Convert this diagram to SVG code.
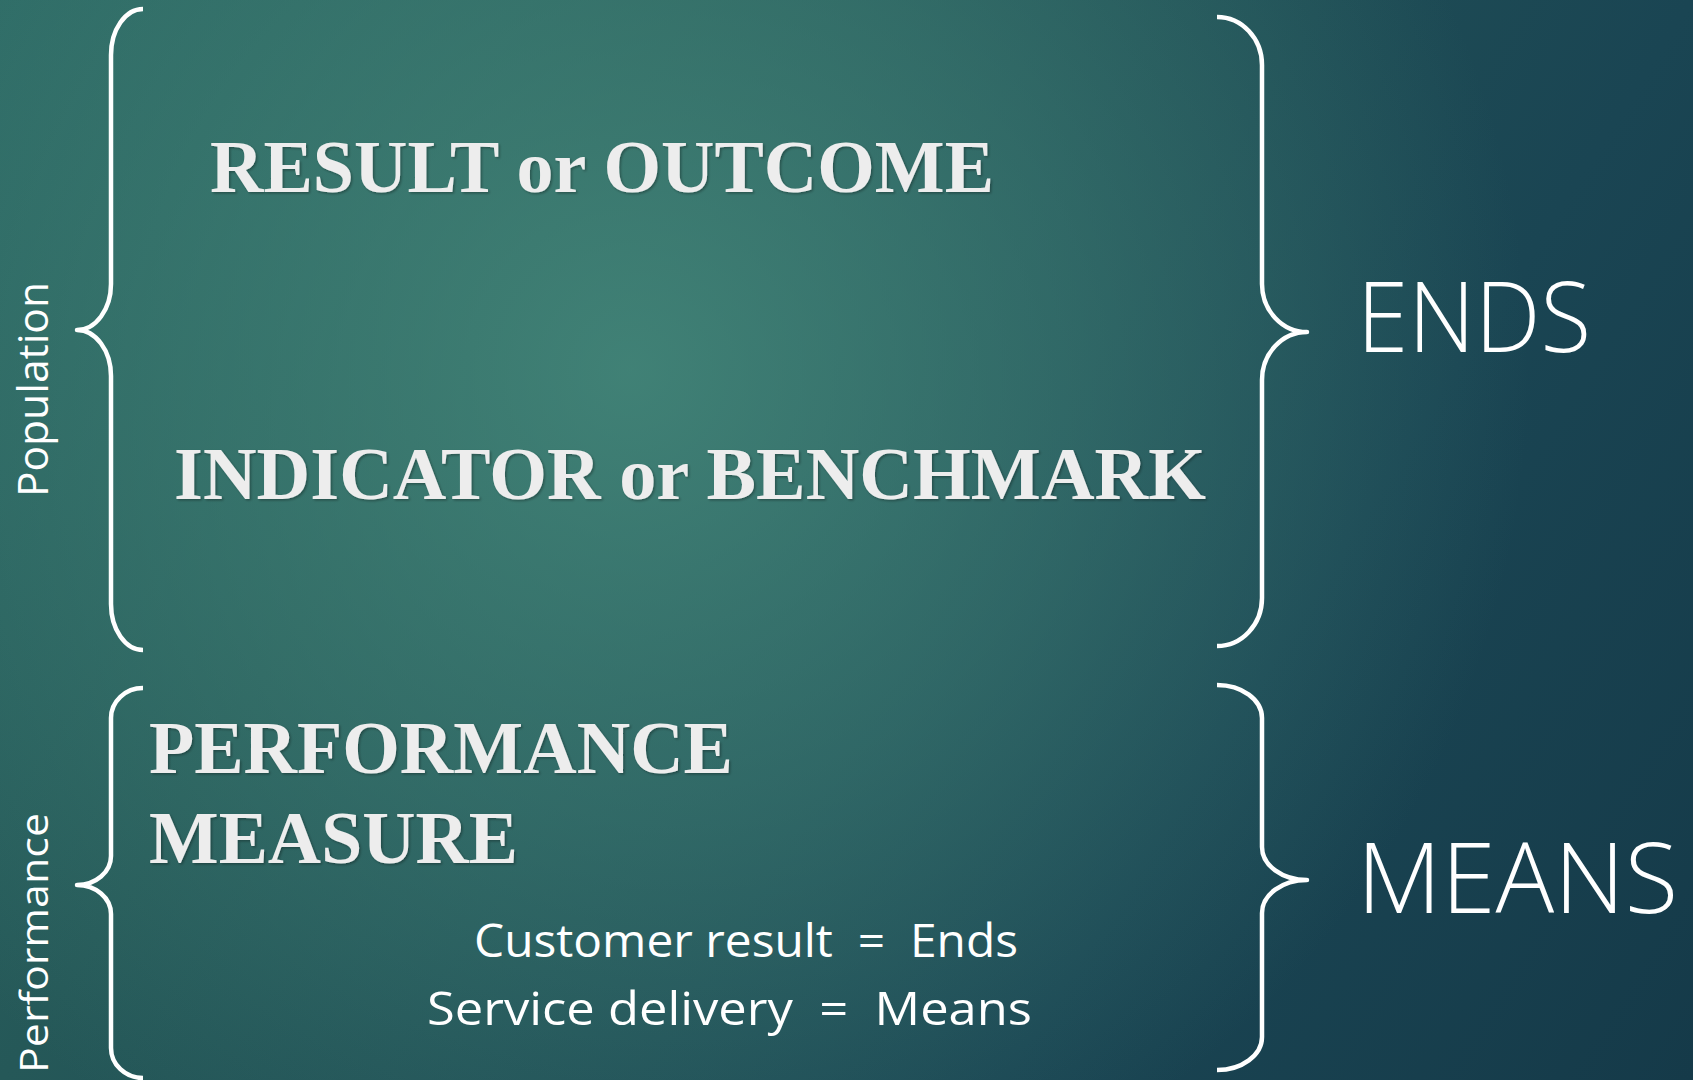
<svg xmlns="http://www.w3.org/2000/svg" width="1693" height="1080" viewBox="0 0 1693 1080">
  <defs>
    <linearGradient id="bgBase" gradientUnits="userSpaceOnUse" x1="0" y1="0" x2="1693" y2="1080">
      <stop offset="0" stop-color="#2c6864"/>
      <stop offset="0.29" stop-color="#255858"/>
      <stop offset="0.71" stop-color="#1a4553"/>
      <stop offset="1" stop-color="#153a49"/>
    </linearGradient>
    <radialGradient id="bgGlow" gradientUnits="userSpaceOnUse" cx="630" cy="370" r="900">
      <stop offset="0" stop-color="#4a9080" stop-opacity="0.75"/>
      <stop offset="0.5" stop-color="#4a9080" stop-opacity="0.4"/>
      <stop offset="1" stop-color="#4a9080" stop-opacity="0"/>
    </radialGradient>
    <filter id="shadow" x="-5%" y="-20%" width="110%" height="140%">
      <feDropShadow dx="1.5" dy="1.5" stdDeviation="1" flood-color="#000" flood-opacity="0.3"/>
    </filter>
  </defs>
  <style>
    .brace { fill: none; stroke: #ffffff; stroke-width: 4.5; stroke-linecap: butt; stroke-linejoin: round; }
    .title { font-family: "Liberation Serif", "Times New Roman", serif; font-weight: bold; font-size: 75px; fill: #ededed; filter: url(#shadow); }
    .big { font-family: "Open Sans", "Liberation Sans", sans-serif; font-weight: 300; font-size: 97px; fill: #ffffff; }
    .note { font-family: "Open Sans", "Liberation Sans", sans-serif; font-size: 46px; fill: #ffffff; white-space: pre; }
    .side { font-family: "Open Sans", "Liberation Sans", sans-serif; fill: #ffffff; }
  </style>

  <!-- background -->
  <rect width="1693" height="1080" fill="url(#bgBase)"/>
  <rect width="1693" height="1080" fill="url(#bgGlow)"/>

  <!-- curly brackets grouping the terms -->
  <g id="connectors">
    <path class="brace" d="M143,9 A32,46 0 0 0 111,55 L111,284 A34,46 0 0 1 77,330 A34,46 0 0 1 111,376 L111,604 A32,46 0 0 0 143,650"/>
    <path class="brace" d="M143,688 A32,30 0 0 0 111,718 L111,856 A34,29 0 0 1 77,885 A34,29 0 0 1 111,914 L111,1048 A32,30 0 0 0 143,1078"/>
    <path class="brace" d="M1217,17 A45,48 0 0 1 1262,65 L1262,284 A45,48 0 0 0 1307,332 A45,48 0 0 0 1262,380 L1262,598 A45,48 0 0 1 1217,646"/>
    <path class="brace" d="M1217,685 A45,33 0 0 1 1262,718 L1262,847 A45,33 0 0 0 1307,880 A45,33 0 0 0 1262,913 L1262,1037 A45,33 0 0 1 1217,1070"/>
  </g>

  <g id="population">
    <text class="side" font-size="42" transform="translate(48,497) rotate(-90)" textLength="215" lengthAdjust="spacingAndGlyphs">Population</text>
  </g>
  <g id="performance">
    <text class="side" font-size="38" transform="translate(48,1073) rotate(-90)" textLength="260" lengthAdjust="spacingAndGlyphs">Performance</text>
  </g>

  <g id="result">
    <text class="title" x="210" y="192" textLength="784" lengthAdjust="spacingAndGlyphs">RESULT or OUTCOME</text>
  </g>
  <g id="indicator">
    <text class="title" x="174" y="499" textLength="1032" lengthAdjust="spacingAndGlyphs">INDICATOR or BENCHMARK</text>
  </g>
  <g id="measure">
    <text class="title" x="149" y="773" textLength="584" lengthAdjust="spacingAndGlyphs">PERFORMANCE</text>
    <text class="title" x="149" y="863" textLength="369" lengthAdjust="spacingAndGlyphs">MEASURE</text>
  </g>

  <g id="equivalences">
    <text class="note" x="474" y="957" textLength="544" lengthAdjust="spacingAndGlyphs">Customer result  =  Ends</text>
    <text class="note" x="427" y="1025" textLength="605" lengthAdjust="spacingAndGlyphs">Service delivery  =  Means</text>
  </g>

  <g id="ends">
    <text class="big" x="1357" y="352" textLength="234" lengthAdjust="spacingAndGlyphs">ENDS</text>
  </g>
  <g id="means">
    <text class="big" x="1357" y="913" textLength="321" lengthAdjust="spacingAndGlyphs">MEANS</text>
  </g>
</svg>
